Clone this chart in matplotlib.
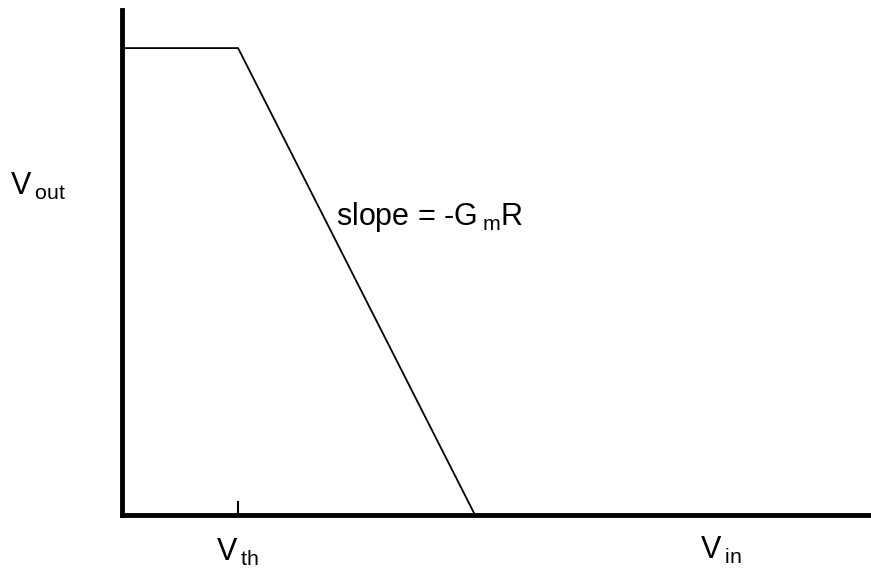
import matplotlib.pyplot as plt
import matplotlib

matplotlib.rcParams['font.family'] = 'Liberation Sans'
matplotlib.rcParams['mathtext.fontset'] = 'custom'
matplotlib.rcParams['mathtext.rm'] = 'Liberation Sans'
matplotlib.rcParams['mathtext.it'] = 'Liberation Sans'

# transfer curve (arbitrary units), Vth = 1
vin = [0, 1.0, 3.04, 6.45]
vout = [0.925, 0.925, 0, 0]
vth = 1.0


def sub(main, s):
    # main letter, small gap, then lowered subscript
    return r'$\mathregular{%s}\,{}_{\mathregular{%s}}$' % (main, s)


fig = plt.figure(figsize=(8.71, 5.69), dpi=100)
ax = fig.add_axes([0.140, 0.095, 0.860, 0.887])
ax.plot(vin, vout, '-', color='black', lw=1.3, clip_on=False)
ax.set_xlim(0, 6.45)
ax.set_ylim(0, 1.0)

for s in ['top', 'right']:
    ax.spines[s].set_visible(False)
for s in ['left', 'bottom']:
    ax.spines[s].set_linewidth(3.5)

ax.set_yticks([])
ax.set_xticks([vth])
ax.set_xticklabels([sub('V', 'th')], fontsize=22)
ax.tick_params('x', direction='in', length=10, width=1.5, pad=16)

ax.text(-0.112, 0.65, sub('V', 'out'), transform=ax.transAxes,
        fontsize=22, ha='center', va='center')
ax.text(0.80, -0.07, sub('V', 'in'), transform=ax.transAxes,
        fontsize=22, ha='center', va='center')
ax.text(1.84, 0.59, r'slope = -G$\,{}_{\mathregular{m}}$R', fontsize=22,
        ha='left', va='center')

plt.savefig('out.png')
